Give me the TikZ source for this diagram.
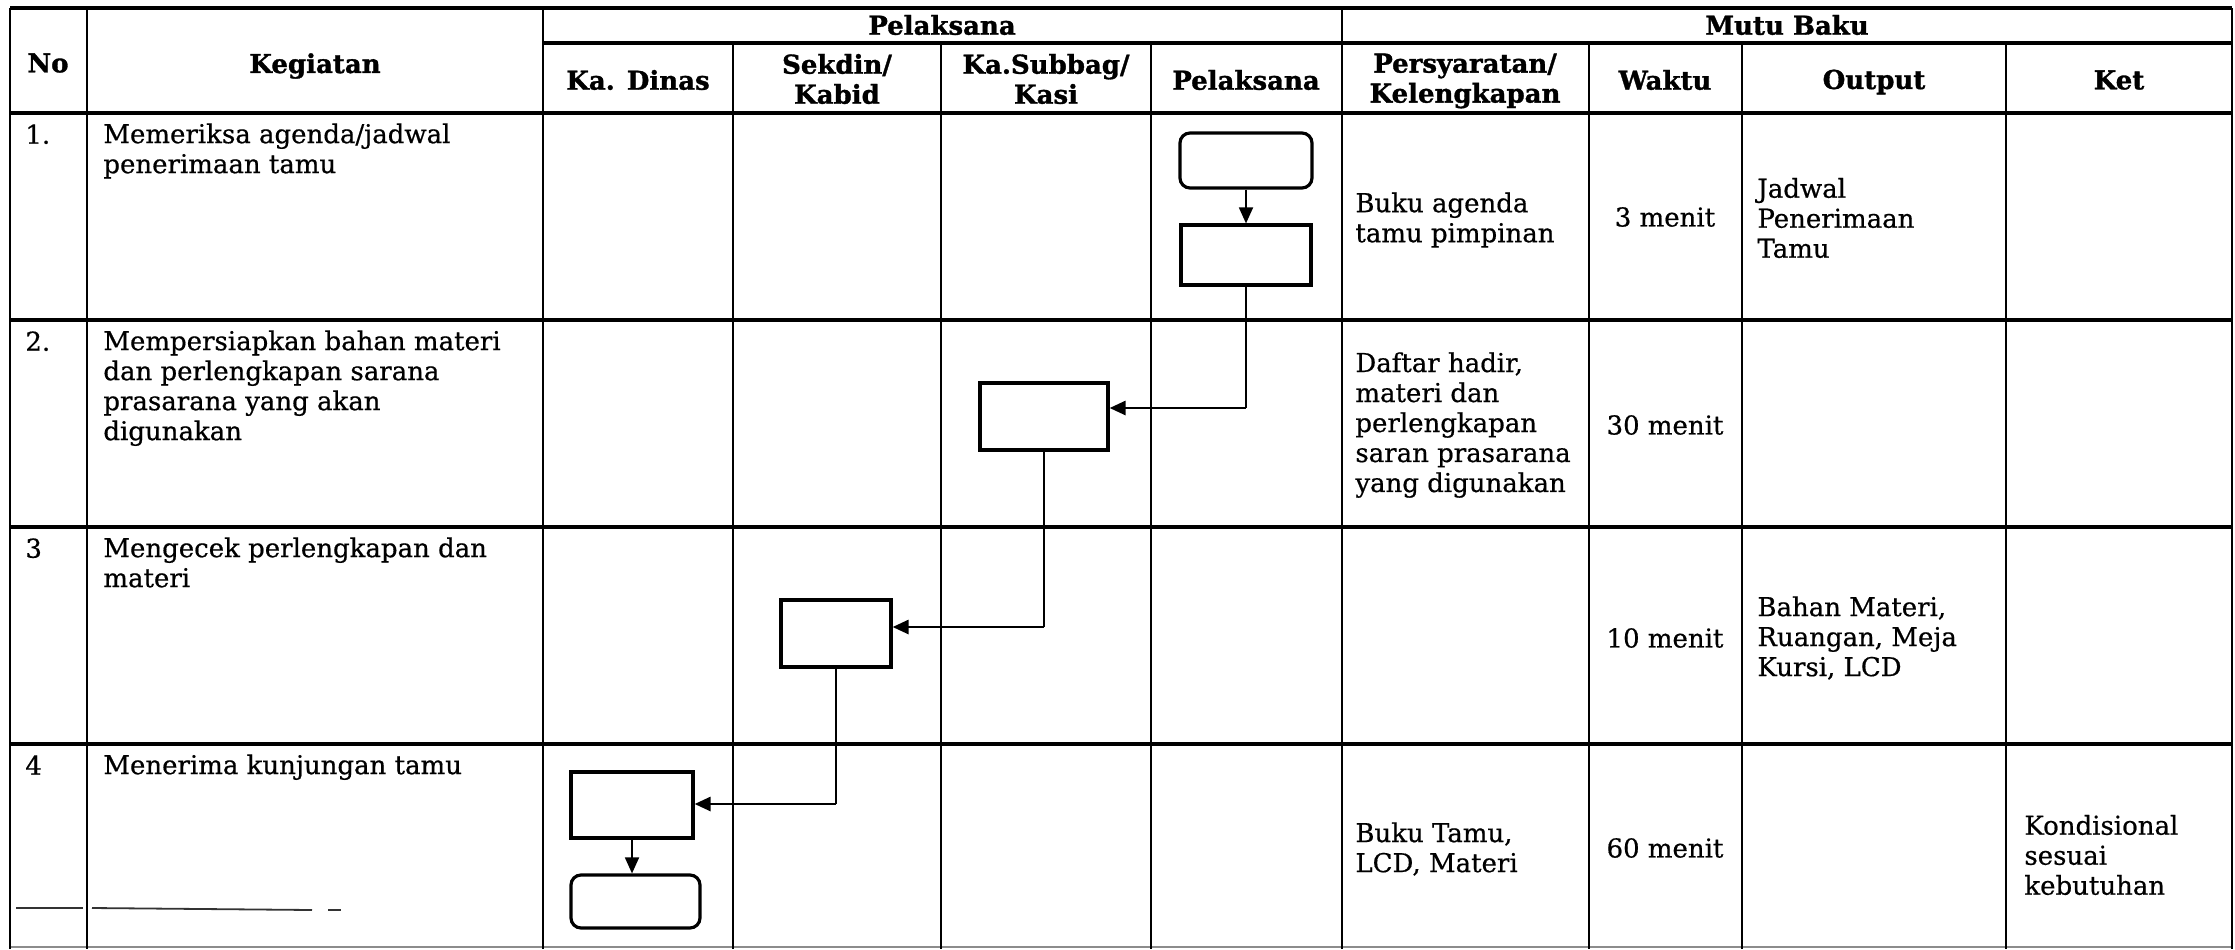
\documentclass[tikz,border=0pt]{standalone}
\usepackage{fontspec}
\setmainfont{DejaVu Serif}
\newfontfamily\bodyfont{DejaVu Serif}[FakeBold=0.6]
\newfontfamily\headfont{DejaVu Serif Bold}[FakeBold=1.2]
\usetikzlibrary{arrows.meta}
\begin{document}
\begin{tikzpicture}[x=0.5pt,y=-0.5pt,
  hrule/.style={line width=1.8pt},
  vrule/.style={line width=1.1pt},
  hd/.style={font=\headfont\fontsize{13}{15}\selectfont, align=center, inner sep=0pt},
  tx/.style={font=\bodyfont\fontsize{13}{15}\selectfont, align=left, inner sep=0pt},
  stepbox/.style={draw, line width=1.6pt, inner sep=0pt},
  endbox/.style={draw, line width=1.6pt, rounded corners=5pt, inner sep=0pt},
  conn/.style={line width=0.9pt},
  connarrow/.style={line width=1.4pt, -{Triangle[length=8pt,width=7pt]}},
  downarrow/.style={line width=0.9pt, -{Triangle[length=8pt,width=7pt]}},
  scan/.style={line width=0.9pt, black!80}
]
\useasboundingbox (0,0) rectangle (2235,949);

% ---------- table grid ----------
% horizontal rules
\draw[hrule] (10,8) -- (2232,8);
\draw[hrule] (543,43) -- (2232,43);
\draw[hrule] (10,113) -- (2232,113);
\draw[hrule] (10,320) -- (2232,320);
\draw[hrule] (10,527) -- (2232,527);
\draw[hrule] (10,744) -- (2232,744);
\draw[line width=0.8pt, black!45] (10,947) -- (2232,947);
% vertical rules (full height)
\foreach \xx in {10,87,543,1342,2232}
  \draw[vrule] (\xx,8) -- (\xx,949);
% vertical rules (below group header)
\foreach \xx in {733,941,1151,1589,1742,2006}
  \draw[vrule] (\xx,43) -- (\xx,949);

% ---------- header ----------
\node[hd] (hNo)  at (48,63)   {No};
\node[hd] (hKeg) at (315,66)  {Kegiatan};
\node[hd] (hPel) at (942,25)  {Pelaksana};
\node[hd] (hMutu) at (1787,25) {Mutu Baku};
\node[hd] (hKD)  at (638,80)  {Ka. Dinas};
\node[hd] (hSek) at (837,79)  {Sekdin/\\Kabid};
\node[hd] (hKS)  at (1046,79) {Ka.Subbag/\\Kasi};
\node[hd] (hPl)  at (1246,80) {Pelaksana};
\node[hd] (hPer) at (1465,81) {Persyaratan/\\Kelengkapan};
\node[hd] (hW)   at (1665,80) {Waktu};
\node[hd] (hO)   at (1874,82) {Output};
\node[hd] (hK)   at (2119,80) {Ket};

% ---------- row texts ----------
\node[tx, anchor=north west] (n1) at (25,124) {1.};
\node[tx, anchor=north west] (k1) at (103,123) {Memeriksa agenda/jadwal\\penerimaan tamu};
\node[tx, anchor=north west] (n2) at (25,331) {2.};
\node[tx, anchor=north west] (k2) at (103,330) {Mempersiapkan bahan materi\\dan perlengkapan sarana\\prasarana yang akan\\digunakan};
\node[tx, anchor=north west] (n3) at (25,538) {3};
\node[tx, anchor=north west] (k3) at (103,537) {Mengecek perlengkapan dan\\materi};
\node[tx, anchor=north west] (n4) at (25,755) {4};
\node[tx, anchor=north west] (k4) at (103,754) {Menerima kunjungan tamu};

\node[tx, anchor=west] (p1) at (1355,220) {Buku agenda\\tamu pimpinan};
\node[tx] (w1) at (1665,217) {3 menit};
\node[tx, anchor=west] (o1) at (1757,218) {Jadwal\\Penerimaan\\Tamu};
\node[tx, anchor=west] (p2) at (1355,425) {Daftar hadir,\\materi dan\\perlengkapan\\saran prasarana\\yang digunakan};
\node[tx] (w2) at (1665,425) {30 menit};
\node[tx] (w3) at (1665,638) {10 menit};
\node[tx, anchor=west] (o3) at (1757,638) {Bahan Materi,\\Ruangan, Meja\\Kursi, LCD};
\node[tx, anchor=west] (p4) at (1355,849) {Buku Tamu,\\LCD, Materi};
\node[tx] (w4) at (1665,848) {60 menit};
\node[tx, anchor=west] (t4) at (2024,855) {Kondisional\\sesuai\\kebutuhan};

% ---------- flow boxes ----------
\node[endbox,  minimum width=66pt, minimum height=27.5pt] (A) at (1246,160.5) {};
\node[stepbox, minimum width=65pt, minimum height=30pt]   (B) at (1246,255) {};
\node[stepbox, minimum width=64pt, minimum height=33.5pt] (C) at (1044,416.5) {};
\node[stepbox, minimum width=55pt, minimum height=33.5pt] (D) at (836,633.5) {};
\node[stepbox, minimum width=61pt, minimum height=33pt]   (E) at (632,805) {};
\node[endbox,  minimum width=64.5pt, minimum height=26.5pt] (F) at (635.5,901.5) {};

\coordinate (c1) at (1246,408);
\coordinate (c2) at (1044,627);
\coordinate (c3) at (836,804);

\draw[downarrow] (A.south) -- (A.south |- B.north);
\draw[conn] (B.south) -- (c1);
\draw[connarrow] (c1) -- (c1 -| C.east);
\draw[conn] (C.south) -- (c2);
\draw[connarrow] (c2) -- (c2 -| D.east);
\draw[conn] (D.south) -- (c3);
\draw[connarrow] (c3) -- (c3 -| E.east);
\draw[downarrow] (E.south) -- (E.south |- F.north);

% ---------- scan marks ----------
\draw[scan] (16,908) -- (83,908);
\draw[scan] (92,908) -- (312,910);
\draw[scan] (328,910) -- (341,910);
\end{tikzpicture}
\end{document}
